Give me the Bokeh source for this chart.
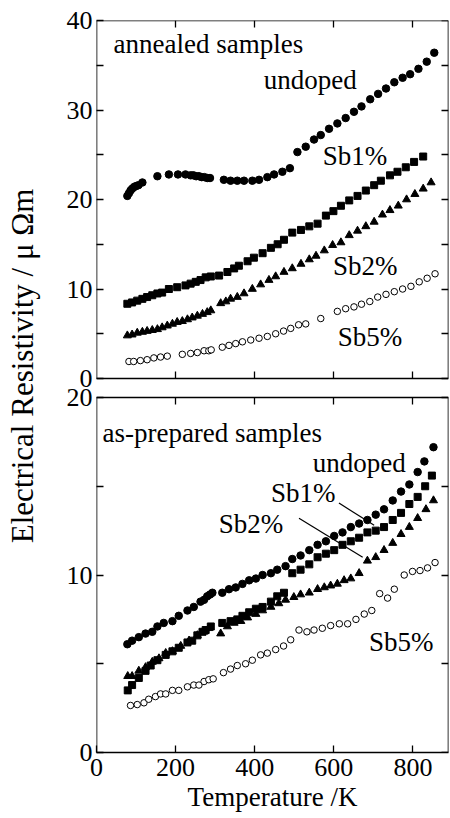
import math
from bokeh.plotting import figure
from bokeh.layouts import row
from bokeh.models import Range1d, LinearAxis, FixedTicker, Label
from bokeh.embed import file_html
from bokeh.resources import INLINE

FONT = "Liberation Serif"

# ---------------- data (Temperature / K, resistivity / micro-ohm m) ----------------
# annealed samples
T_a_u = [78, 82, 86, 90, 95, 100, 106, 116, 154, 183, 206, 225, 238, 245, 252, 259, 266, 273, 280, 287,
         322, 339, 356, 373, 394, 411, 432, 449, 470, 489, 508, 529, 550, 567, 588, 609, 630, 651, 670, 692,
         712, 732, 753, 774, 793, 814, 835, 854]
R_a_u = [20.4, 20.7, 21.0, 21.2, 21.4, 21.5, 21.6, 21.9, 22.6, 22.8, 22.8, 22.8, 22.7, 22.7, 22.6, 22.6, 22.5, 22.5, 22.4, 22.4,
         22.2, 22.1, 22.1, 22.1, 22.1, 22.2, 22.5, 22.8, 23.1, 23.5, 25.3, 25.9, 26.7, 27.2, 27.9, 28.5, 29.1, 29.8, 30.4, 31.2,
         31.8, 32.4, 33.1, 33.6, 34.0, 34.6, 35.4, 36.4]

T_a_1 = [78, 90, 103, 116, 128, 141, 154, 166, 183, 204, 225, 238, 251, 263, 276, 289, 310, 331, 348, 360,
         382, 398, 420, 441, 458, 474, 495, 517, 538, 559, 580, 599, 618, 639, 660, 681, 702, 719, 742, 761,
         782, 803, 826]
R_a_1 = [8.35, 8.5, 8.7, 8.9, 9.1, 9.3, 9.5, 9.6, 10.0, 10.2, 10.4, 10.6, 10.8, 11.0, 11.3, 11.4, 11.5, 11.9, 12.3, 12.6,
         13.1, 13.5, 14.0, 14.6, 15.0, 15.5, 16.3, 16.6, 17.0, 17.3, 18.2, 18.7, 19.3, 19.9, 20.4, 21.0, 21.6, 22.1, 22.7, 23.1,
         23.6, 24.2, 24.8]

T_a_2 = [78, 90, 103, 116, 128, 141, 154, 166, 179, 192, 204, 217, 230, 242, 255, 268, 280, 289,
         314, 327, 339, 356, 373, 394, 415, 436, 453, 474, 495, 517, 538, 555, 576, 597, 618, 639, 660, 681,
         702, 723, 742, 763, 784, 805, 826, 846]
R_a_2 = [4.8, 4.9, 5.1, 5.2, 5.3, 5.4, 5.5, 5.7, 5.9, 6.1, 6.3, 6.4, 6.6, 6.8, 7.0, 7.2, 7.4, 7.6,
         8.4, 8.6, 8.9, 9.1, 9.5, 10.0, 10.5, 11.0, 11.4, 11.9, 12.3, 12.8, 13.3, 13.7, 14.3, 14.9, 15.2, 16.0, 16.5, 17.0,
         17.5, 18.3, 18.8, 19.3, 20.0, 20.6, 21.2, 21.9]

T_a_5 = [82, 94, 111, 128, 145, 162, 179, 217, 238, 255, 272, 284, 290, 318, 335, 352, 369, 390, 411, 432,
         453, 473, 491, 511, 529, 567, 609, 630, 651, 670, 691, 711, 732, 753, 774, 795, 816, 836, 856]
R_a_5 = [1.9, 1.9, 2.0, 2.1, 2.3, 2.4, 2.5, 2.7, 2.8, 2.9, 3.1, 3.1, 3.2, 3.5, 3.7, 3.9, 4.1, 4.3, 4.5, 4.7,
         5.0, 5.3, 5.6, 6.0, 6.1, 6.7, 7.5, 7.8, 8.0, 8.3, 8.6, 9.1, 9.4, 9.7, 10.0, 10.3, 10.8, 11.2, 11.7]

# as-prepared samples
T_p_u = [78, 90, 107, 124, 141, 154, 170, 192, 208, 230, 246, 263, 272, 280, 287, 293, 318, 335, 352, 369,
         386, 403, 420, 441, 457, 478, 495, 516, 538, 559, 580, 601, 622, 643, 664, 685, 706, 727, 749, 770,
         791, 812, 829, 852]
R_p_u = [6.1, 6.3, 6.5, 6.7, 6.8, 7.1, 7.3, 7.4, 7.7, 8.0, 8.2, 8.5, 8.6, 8.8, 8.9, 9.0, 9.0, 9.2, 9.3, 9.5,
         9.7, 9.8, 10.0, 10.1, 10.3, 10.5, 10.9, 11.1, 11.4, 11.7, 11.9, 12.2, 12.4, 12.7, 12.9, 13.1, 13.4, 13.7, 14.2, 14.7,
         15.1, 15.8, 16.4, 17.2]

T_p_1 = [79, 90, 107, 124, 137, 154, 175, 192, 208, 230, 242, 255, 268, 276, 289, 318, 339, 356, 369, 386,
         403, 420, 441, 457, 474, 495, 516, 538, 559, 580, 601, 622, 643, 664, 685, 706, 727, 749, 770, 791,
         812, 831, 848]
R_p_1 = [3.5, 3.8, 4.2, 4.6, 4.9, 5.2, 5.5, 5.7, 5.9, 6.2, 6.3, 6.6, 6.8, 6.9, 7.1, 7.3, 7.4, 7.5, 7.7, 7.9,
         8.1, 8.2, 8.5, 8.8, 9.0, 10.1, 10.3, 10.6, 11.0, 11.2, 11.4, 11.7, 11.9, 12.1, 12.4, 12.5, 12.7, 13.1, 13.5, 14.0,
         14.4, 15.0, 15.6]

T_p_2 = [79, 90, 107, 124, 141, 158, 175, 192, 213, 234, 255, 272, 284, 314, 331, 348, 365, 382, 403, 420,
         441, 461, 478, 499, 516, 538, 559, 576, 592, 609, 626, 643, 664, 685, 706, 727, 749, 770, 791, 812,
         833, 852]
R_p_2 = [4.3, 4.3, 4.6, 4.8, 5.1, 5.3, 5.6, 5.7, 6.0, 6.3, 6.6, 6.8, 7.0, 6.7, 7.1, 7.3, 7.4, 7.6, 7.8, 8.0,
         8.2, 8.4, 8.6, 8.75, 8.9, 9.0, 9.2, 9.3, 9.4, 9.5, 9.7, 9.8, 10.1, 10.8, 11.0, 11.4, 11.8, 12.3, 12.7, 13.2,
         13.7, 14.2]

T_p_5 = [86, 103, 120, 132, 149, 162, 175, 192, 208, 230, 246, 259, 272, 284, 295, 321, 339, 356, 377, 394,
         415, 432, 453, 473, 491, 512, 532, 550, 571, 592, 614, 635, 656, 677, 696, 716, 736, 753, 778, 799,
         818, 837, 856]
R_p_5 = [2.65, 2.7, 2.8, 3.0, 3.15, 3.3, 3.3, 3.5, 3.5, 3.7, 3.8, 3.8, 4.0, 4.1, 4.15, 4.5, 4.7, 4.9, 5.0, 5.2,
         5.5, 5.6, 5.8, 6.0, 6.35, 6.9, 6.8, 6.9, 7.0, 7.15, 7.25, 7.25, 7.5, 7.8, 8.0, 8.95, 8.7, 9.2, 10.0, 10.2,
         10.25, 10.4, 10.7]

X_MAX = 890
X_TICKS = [200, 400, 600, 800]
X_LABEL_TICKS = [0, 200, 400, 600, 800]
TOP_MAX = 40
TOP_Y_TICKS = [0, 10, 20, 30, 40]
TOP_Y_MINOR = [5, 15, 25, 35]
BOT_MAX = 20
BOT_Y_TICKS = [0, 10, 20]
BOT_Y_MINOR = [5, 15]

# geometry of the two stacked panels inside one plotting frame (pixels)
TOP_H = 358      # height of the upper panel
GAP = 19         # white gap between the panels
BOT_H = 355      # height of the lower panel
FRAME_H = TOP_H + GAP + BOT_H
top_unit = TOP_H / TOP_MAX
bot_unit = BOT_H / BOT_MAX
top_range = Range1d(TOP_MAX - FRAME_H / top_unit, TOP_MAX)
bot_range = Range1d(0, FRAME_H / bot_unit)


def bot_to_top(v):
    """position of a lower-panel value expressed in the upper panel's scale"""
    y_px = TOP_H + GAP + (BOT_MAX - v) * bot_unit
    return round(TOP_MAX - y_px / top_unit, 6)


p = figure(frame_width=352, frame_height=FRAME_H,
           x_range=Range1d(0, X_MAX), y_range=top_range,
           x_axis_location=None, y_axis_location=None,
           output_backend="svg", toolbar_location=None,
           min_border_left=51, min_border_right=2,
           min_border_top=20, min_border_bottom=66)
p.extra_y_ranges = {"bot": bot_range}
p.grid.grid_line_color = None
p.outline_line_color = None
p.background_fill_color = "white"
p.border_fill_color = "white"


def add_axis(side, ticks, minor, fixed=None, bounds="auto", rname="default"):
    ax = LinearAxis(ticker=FixedTicker(ticks=ticks, minor_ticks=minor),
                    fixed_location=fixed, bounds=bounds, y_range_name=rname)
    ax.axis_line_color = "black"
    ax.axis_line_width = 1.6
    ax.major_tick_in = 7
    ax.major_tick_out = 0
    ax.minor_tick_in = 7
    ax.minor_tick_out = 0
    ax.major_tick_line_color = "black"
    ax.minor_tick_line_color = "black"
    ax.major_tick_line_width = 1.3
    ax.minor_tick_line_width = 1.3
    ax.major_label_text_font = FONT
    ax.major_label_text_font_size = "26px"
    ax.major_label_text_color = "black"
    ax.major_label_standoff = 4
    p.add_layout(ax, side)
    return ax


# shared left axis: ticks and labels of both panels
bot_pos = [bot_to_top(v) for v in BOT_Y_TICKS]
left = add_axis("left", TOP_Y_TICKS + bot_pos,
                TOP_Y_MINOR + [bot_to_top(v) for v in BOT_Y_MINOR])
left.axis_line_color = None
left.major_label_overrides = {pos: str(v) for pos, v in zip(bot_pos, BOT_Y_TICKS)}

# upper panel box (annealed)
add_axis("left", [], [], fixed=0, bounds=(0, TOP_MAX))
add_axis("right", [], TOP_Y_TICKS + TOP_Y_MINOR, fixed=X_MAX, bounds=(0, TOP_MAX))
add_axis("above", [], X_TICKS, fixed=TOP_MAX, bounds=(0, X_MAX))
add_axis("below", [], X_TICKS, fixed=0, bounds=(0, X_MAX))

# lower panel box (as-prepared)
add_axis("left", [], [], fixed=0, bounds=(0, BOT_MAX), rname="bot")
add_axis("right", [], BOT_Y_TICKS + BOT_Y_MINOR, fixed=X_MAX, bounds=(0, BOT_MAX), rname="bot")
add_axis("above", [], X_TICKS, fixed=BOT_MAX, bounds=(0, X_MAX), rname="bot")
xb = add_axis("below", X_LABEL_TICKS, [], rname="bot")
xb.major_label_standoff = 6
xb.axis_label = "Temperature /K"
xb.axis_label_text_font = FONT
xb.axis_label_text_font_size = "27px"
xb.axis_label_text_font_style = "normal"
xb.axis_label_text_color = "black"
xb.axis_label_standoff = 3


def add_series(T, R, kind, rname):
    if kind == "circle":
        p.scatter(T, R, marker="circle", size=7.5, fill_color="black", line_color="black", y_range_name=rname)
    elif kind == "square":
        p.scatter(T, R, marker="square", size=7, fill_color="black", line_color="black", y_range_name=rname)
    elif kind == "triangle":
        p.scatter(T, R, marker="triangle", size=8, fill_color="black", line_color="black", y_range_name=rname)
    else:
        p.scatter(T, R, marker="circle", size=6.5, fill_color="white", line_color="black",
                  line_width=1, y_range_name=rname)


def add_text(x, y, text, rname):
    p.add_layout(Label(x=x, y=y, text=text, text_font=FONT, text_font_size="27px",
                       text_align="left", text_baseline="middle", text_color="black",
                       y_range_name=rname))


add_series(T_a_u, R_a_u, "circle", "default")
add_series(T_a_1, R_a_1, "square", "default")
add_series(T_a_2, R_a_2, "triangle", "default")
add_series(T_a_5, R_a_5, "open", "default")
add_text(43, 37.4, "annealed samples", "default")
add_text(423, 33.3, "undoped", "default")
add_text(572, 24.9, "Sb1%", "default")
add_text(598, 12.6, "Sb2%", "default")
add_text(610, 4.6, "Sb5%", "default")

add_series(T_p_u, R_p_u, "circle", "bot")
add_series(T_p_1, R_p_1, "square", "bot")
add_series(T_p_2, R_p_2, "triangle", "bot")
add_series(T_p_5, R_p_5, "open", "bot")
add_text(15, 18.0, "as-prepared samples", "bot")
add_text(547, 16.3, "undoped", "bot")
add_text(441, 14.6, "Sb1%", "bot")
add_text(309, 12.9, "Sb2%", "bot")
add_text(689, 6.2, "Sb5%", "bot")
p.segment(x0=[613, 512], y0=[14.05, 13.2], x1=[702, 673], y1=[12.8, 11.0],
          line_color="black", line_width=1.2, y_range_name="bot")

# ---------------- shared y-axis title ----------------
pt = figure(width=45, height=818, x_range=Range1d(0, 45), y_range=Range1d(0, 818),
            x_axis_location=None, y_axis_location=None,
            output_backend="svg", toolbar_location=None, min_border=0)
pt.grid.grid_line_color = None
pt.outline_line_color = None
pt.add_layout(Label(x=22, y=818 - 386, text="Electrical Resistivity / μ Ωm", angle=math.pi / 2,
                    text_font=FONT, text_font_size="31px", text_align="center",
                    text_baseline="middle", text_color="black"))

layout = row(pt, p)

open("out.html", "w").write(file_html(layout, INLINE))
